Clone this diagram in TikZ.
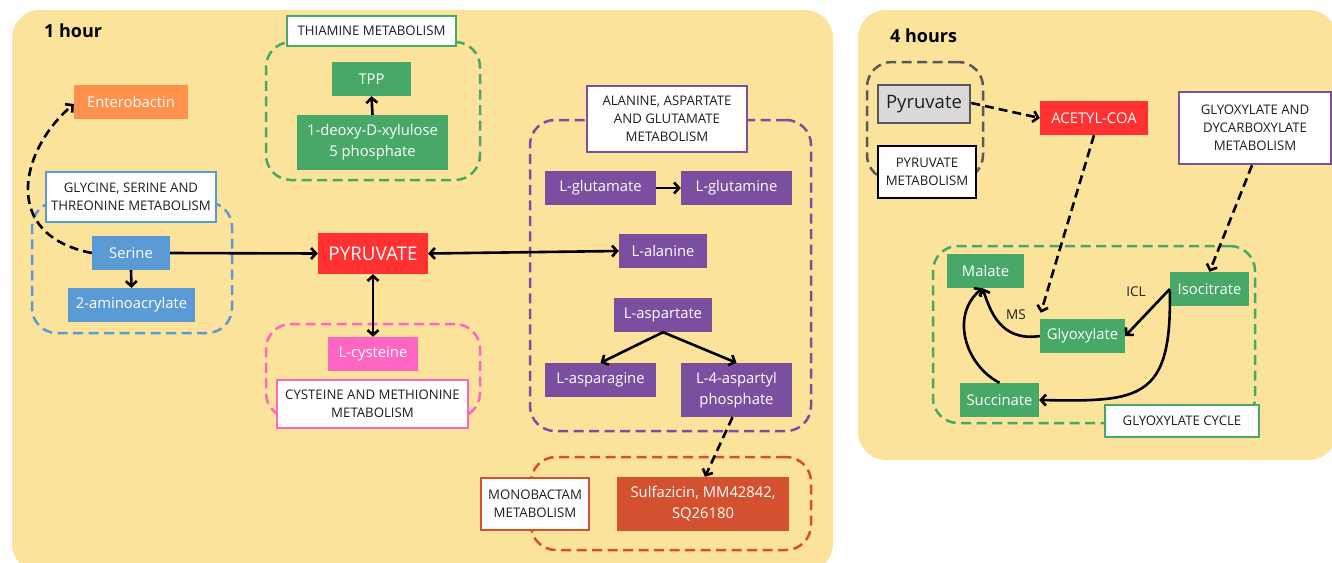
\documentclass[tikz,border=0pt]{standalone}
\usepackage{fontspec}
\setmainfont{Open Sans}
\usetikzlibrary{arrows.meta}
\definecolor{panelbg}{HTML}{FCE39C}
\definecolor{cgreen}{HTML}{48A868}
\definecolor{cblue}{HTML}{5B9BD5}
\definecolor{cpurple}{HTML}{7A4FA0}
\definecolor{cred}{HTML}{FF3131}
\definecolor{cpink}{HTML}{FF66C4}
\definecolor{corange}{HTML}{FF914D}
\definecolor{cmono}{HTML}{D4512F}
\definecolor{cgray}{HTML}{D9D9D9}
\definecolor{cgrayline}{HTML}{595959}
\definecolor{ctext}{HTML}{1F1F1F}
% place a node by its corners: style, name, x1, y1, x2, y2
\newcommand\mybox[6]{\node[#1, minimum width={(#5)-(#3)}, minimum height={(#6)-(#4)}] (#2) at ({((#3)+(#5))/2},{((#4)+(#6))/2})}
\begin{document}
\begin{tikzpicture}[x=1pt,y=-1pt,
  box/.style={fill=#1, text=white, inner sep=0pt, align=center, font=\fontsize{14.8}{21}\selectfont},
  lab/.style={draw=#1, fill=white, line width=2.6pt, text=ctext, inner sep=0pt, align=center, font=\fontsize{13.2}{18}\selectfont},
  grp/.style={draw=#1, dash pattern=on 10pt off 5.5pt, line width=2.5pt, rounded corners=25pt, inner sep=0pt},
  panel/.style={fill=panelbg, rounded corners=28pt, inner sep=0pt},
  tip/.tip={Straight Barb[length=5pt,width=11pt]},
  arr/.style={line width=2.6pt, -tip},
  barr/.style={line width=2.6pt, tip-tip},
  darr/.style={arr, dash pattern=on 9pt off 5pt},
  title/.style={font=\fontsize{18}{20}\selectfont\bfseries, anchor=west, inner sep=0pt},
  enz/.style={font=\fontsize{13.5}{15}\selectfont, text=ctext, inner sep=0pt}]
\useasboundingbox (0,0) rectangle (1332,562);
\begin{scope}
\clip (0,0) rectangle (1332,562);
% panels
\mybox{panel}{p1}{12}{10}{833}{572} {};
\mybox{panel}{p2}{858}{10}{1337}{460} {};
\end{scope}
\node[title] (t1) at (44,31) {1 hour};
\node[title] (t2) at (890,36) {4 hours};

% ---- groups (dashed) ----
\mybox{grp=cgreen}{gthia}{266}{42}{480}{180} {};
\mybox{grp=cblue}{ggly}{32}{202}{232}{333} {};
\mybox{grp=cpink}{gcys}{266}{324}{480}{418} {};
\mybox{grp=cpurple}{gala}{530}{120}{811}{431} {};
\mybox{grp=cmono}{gmono}{531}{457}{811}{550} {};
\mybox{grp=cgrayline}{gpyr}{867}{62}{983}{180} {};
\mybox{grp=cgreen}{gcyc}{933}{246}{1255}{423} {};

% ---- group labels ----
\mybox{lab=cgreen}{lthia}{287}{16}{456}{46} {THIAMINE METABOLISM};
\mybox{lab=cblue}{lgly}{46}{172}{216}{222} {GLYCINE, SERINE AND\\THREONINE METABOLISM};
\mybox{lab=cpink}{lcys}{277}{380}{468}{428} {CYSTEINE AND METHIONINE\\METABOLISM};
\mybox{lab=cpurple}{lala}{587}{86}{747}{152} {ALANINE, ASPARTATE\\AND GLUTAMATE\\METABOLISM};
\mybox{lab=cmono}{lmono}{481}{478}{589}{530} {MONOBACTAM\\METABOLISM};
\mybox{lab=black}{lpyr}{878}{146}{976}{198} {PYRUVATE\\METABOLISM};
\mybox{lab=cpurple}{lgd}{1179}{92}{1331}{164} {GLYOXYLATE AND\\DYCARBOXYLATE\\METABOLISM};
\mybox{lab=cgreen}{lcyc}{1105}{405}{1259}{437} {GLYOXYLATE CYCLE};

% ---- 1 hour nodes ----
\mybox{box=corange}{ent}{74}{85}{188}{119} {Enterobactin};
\mybox{box=cgreen}{tpp}{332}{62}{411}{96} {TPP};
\mybox{box=cgreen}{dxp}{297}{115}{448}{170} {1-deoxy-D-xylulose\\5 phosphate};
\mybox{box=cblue}{ser}{92}{236}{170}{270} {Serine};
\mybox{box=cblue}{amino}{68}{288}{195}{322} {2-aminoacrylate};
\mybox{box=cred, font=\fontsize{18.8}{20}\selectfont}{pyr}{318}{233}{428}{274} {PYRUVATE};
\mybox{box=cpink}{cys}{328}{337}{418}{371} {L-cysteine};
\mybox{box=cpurple}{glu}{545}{171}{656}{205} {L-glutamate};
\mybox{box=cpurple}{gln}{681}{171}{792}{205} {L-glutamine};
\mybox{box=cpurple}{ala}{619}{234}{707}{268} {L-alanine};
\mybox{box=cpurple}{asp}{614}{298}{712}{332} {L-aspartate};
\mybox{box=cpurple}{asn}{545}{363}{656}{397} {L-asparagine};
\mybox{box=cpurple}{lap}{681}{363}{792}{417} {L-4-aspartyl\\phosphate};
\mybox{box=cmono}{sulf}{617}{477}{789}{531} {Sulfazicin, MM42842,\\SQ26180};

% ---- 4 hours nodes ----
\mybox{box=cgray, draw=cgrayline, line width=2.6pt, text=ctext, font=\fontsize{18.5}{20}\selectfont}{pyr2}{878}{85}{970}{123} {Pyruvate};
\mybox{box=cred}{acc}{1040}{101}{1148}{135} {ACETYL-COA};
\mybox{box=cgreen}{mal}{947}{254}{1024}{288} {Malate};
\mybox{box=cgreen}{iso}{1170}{272}{1249}{306} {Isocitrate};
\mybox{box=cgreen}{gly}{1040}{319}{1125}{353} {Glyoxylate};
\mybox{box=cgreen}{suc}{960}{383}{1039}{417} {Succinate};
\node[enz] (icl) at (1136,292) {ICL};
\node[enz] (ms) at (1016,315) {MS};

% ---- connectors, 1 hour ----
\draw[darr] (ser.west) .. controls (0,235) and (20,150) .. ([yshift=-2pt]ent.west);
\draw[arr] (ser.east) -- (pyr.west);
\draw[arr] (ser.south) -- (amino.north);
\draw[arr] (dxp.north) -- (tpp.south);
\draw[barr] (pyr.east) -- (ala.west);
\draw[barr] (pyr.south) -- (cys.north);
\draw[arr] (glu.east) -- (gln.west);
\draw[arr] (asp.south) -- (asn.north);
\draw[arr] (asp.south) -- (lap.north);
\draw[darr] ([xshift=-4pt]lap.south) -- ([xshift=2pt]sulf.north);

% ---- connectors, 4 hours ----
\draw[darr] ([yshift=1pt]pyr2.east) -- (acc.west);
\draw[darr] (acc.south) -- ([shift={(1pt,6pt)}]gly.north west);
\draw[darr] ([xshift=-3pt]lgd.south) -- (iso.north);
\draw[arr] (iso.west) -- (gly.east);
\draw[arr] ([yshift=-2pt]iso.west) .. controls (1172,400) and (1140,402) .. (suc.east);
\draw[arr] (gly.west) .. controls (1000,342) and (990,310) .. ([xshift=-3pt]mal.south);
\draw[arr] (suc.north) .. controls (965,365) and (950,315) .. ([xshift=-3pt]mal.south);
\end{tikzpicture}
\end{document}
